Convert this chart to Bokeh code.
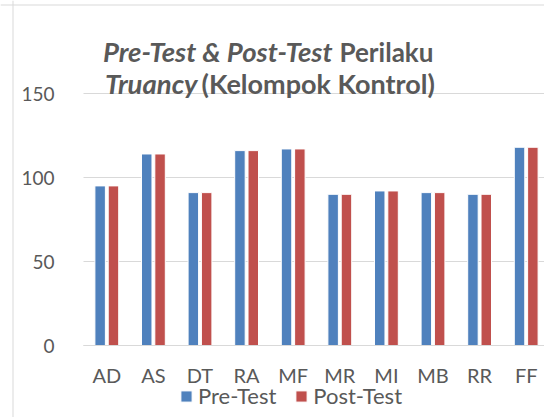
from bokeh.plotting import figure
from bokeh.models import (Range1d, FixedTicker, Label, Legend, LegendItem,
                          ColumnDataSource, Span)
from bokeh.transform import dodge
from bokeh.embed import file_html
from bokeh.resources import INLINE

categories = ["AD", "AS", "DT", "RA", "MF", "MR", "MI", "MB", "RR", "FF"]
pre_test = [95, 114, 91, 116, 117, 90, 92, 91, 90, 118]
post_test = [95, 114, 91, 116, 117, 90, 92, 91, 90, 118]
y_ticks = [0, 50, 100, 150]

FONT = "Lato"
GREY = "#595959"
GRID = "#d9d9d9"
BLUE = "#4f81bd"
RED = "#c0504d"

OFF = 0                    # page offset of the figure
W, H = 544, 417            # figure size
PX_CAT = 46.6              # px per category
PX_UNIT = 1.68             # px per value unit
X0 = 83                    # figure x of the first category edge
Y0 = 345                   # figure y of value 0

def dx(page_x):
    return (page_x - OFF - X0) / PX_CAT

def dy(page_y):
    return (Y0 - (page_y - OFF)) / PX_UNIT

xpos = [i + 0.5 for i in range(len(categories))]
src = ColumnDataSource(dict(x=xpos, pre=pre_test, post=post_test))

p = figure(width=W, height=H, output_backend="svg", toolbar_location=None,
           x_range=Range1d(-X0 / PX_CAT, (W - X0) / PX_CAT),
           y_range=Range1d(-(H - Y0) / PX_UNIT, Y0 / PX_UNIT),
           min_border=0)
p.outline_line_color = None
p.background_fill_color = "white"
p.border_fill_color = "white"

r1 = p.vbar(x=dodge("x", -0.143), top="pre", width=0.225, source=src,
            fill_color=BLUE, line_color="white", line_width=1)
r2 = p.vbar(x=dodge("x", 0.143), top="post", width=0.225, source=src,
            fill_color=RED, line_color="white", line_width=1)

# axes (fixed inside the frame)
p.xaxis.fixed_location = 0
p.xaxis.bounds = (0, 20)
p.xaxis.ticker = FixedTicker(ticks=xpos)
p.xaxis.major_label_overrides = {x: c for x, c in zip(xpos, categories)}
p.xaxis.axis_line_color = GRID
p.xaxis.major_tick_line_color = None
p.xaxis.minor_tick_line_color = None
p.xaxis.major_label_text_font = FONT
p.xaxis.major_label_text_font_size = "20px"
p.xaxis.major_label_text_color = GREY
p.xaxis.major_label_standoff = 11

p.yaxis.fixed_location = 0
p.yaxis.ticker = FixedTicker(ticks=y_ticks)
p.yaxis.axis_line_color = None
p.yaxis.major_tick_line_color = None
p.yaxis.minor_tick_line_color = None
p.yaxis.major_label_text_font = FONT
p.yaxis.major_label_text_font_size = "19px"
p.yaxis.major_label_text_color = GREY
p.yaxis.major_label_standoff = 23

p.xgrid.grid_line_color = None
p.ygrid.ticker = FixedTicker(ticks=y_ticks)
p.ygrid.grid_line_color = GRID
p.ygrid.grid_line_width = 1
p.ygrid.cross_bounds = (0, 20)

# chart-area border (left and top)
p.add_layout(Span(location=dx(12.5), dimension="height", line_color=GRID, line_width=1))
p.add_layout(Span(location=dy(4.5), dimension="width", line_color=GRID, line_width=1))

# title (mixed italic / bold)
def title_part(text, x, y, align, style, size):
    p.add_layout(Label(x=x, y=y, text=text, text_align=align,
                       text_baseline="alphabetic", text_font=FONT,
                       text_font_size=size, text_font_style=style,
                       text_color=GREY))

title_part("Pre-Test & Post-Test", dx(332), dy(51), "right", "bold italic", "27.5px")
title_part("Perilaku", dx(339), dy(51), "left", "bold", "26px")
title_part("Truancy", dx(197), dy(83), "right", "bold italic", "27.5px")
title_part("(Kelompok Kontrol)", dx(201), dy(83), "left", "bold", "27px")

legend = Legend(items=[LegendItem(label="Pre-Test", renderers=[r1]),
                       LegendItem(label="Post-Test", renderers=[r2])],
                orientation="horizontal", location=(179, 8),
                glyph_width=14, glyph_height=14, label_standoff=5,
                spacing=18, padding=0, margin=0,
                label_text_font=FONT, label_text_font_size="22px",
                label_text_color=GREY, border_line_color=None,
                background_fill_alpha=0)
p.add_layout(legend, "center")

open("out.html", "w").write(file_html(p, INLINE))
